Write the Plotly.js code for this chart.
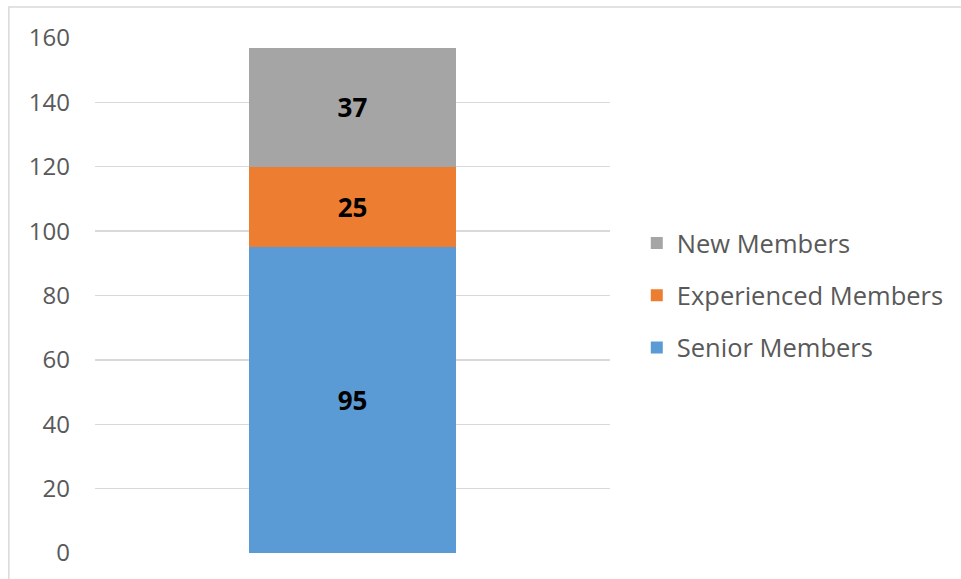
<!DOCTYPE html>
<html><head><meta charset="utf-8">
<script src="https://cdn.plot.ly/plotly-3.0.1.min.js"></script>
<style>html,body{margin:0;padding:0;background:#fff}#c{width:961px;height:579px}</style>
</head><body><div id="c"></div>
<script>
const categories = ['Members'];
const seriesNames = ['Senior Members', 'Experienced Members', 'New Members'];
const senior = [95];
const experienced = [25];
const newMembers = [37];
const colors = ['#5B9BD5', '#ED7D31', '#A5A5A5'];
const legendRanks = [3, 2, 1];
const yTicks = [0, 20, 40, 60, 80, 100, 120, 140, 160];

const values = [senior, experienced, newMembers];
const traces = values.map((v, i) => ({
  type: 'bar', x: categories, y: v, name: seriesNames[i],
  legendgroup: 'g' + i, legendrank: legendRanks[i],
  marker: {color: colors[i]},
  text: v.map(String), textposition: 'inside', insidetextanchor: 'middle',
  textfont: {family: 'Open Sans', size: 26, color: '#000000', weight: 'bold'},
  width: 0.403, hoverinfo: 'skip'
}));

const layout = {
  width: 961, height: 579,
  margin: {l: 95, r: 351, t: 38, b: 26},
  paper_bgcolor: '#fff', plot_bgcolor: '#fff',
  barmode: 'stack',
  font: {family: 'Open Sans', color: '#595959'},
  xaxis: {showticklabels: false, showgrid: false, zeroline: false, showline: false, ticks: '', range: [-0.5, 0.5]},
  yaxis: {range: [0, 160], tickvals: yTicks, ticktext: yTicks.map(String), showgrid: true, gridcolor: '#D9D9D9', gridwidth: 1.3,
          zeroline: false, showline: false, ticks: '', ticklabelstandoff: 24, tickfont: {size: 24, color: '#595959'}},
  showlegend: true,
  legend: {x: 1.052, y: 0.5, xanchor: 'left', yanchor: 'middle', traceorder: 'grouped', tracegroupgap: 16,
           font: {size: 25.5, color: '#595959'}, itemwidth: 30},
  shapes: [{type: 'rect', xref: 'paper', yref: 'paper', x0: (9-95)/514, x1: 3, y0: -2, y1: (553-7)/515,
            line: {color: '#D9D9D9', width: 1.5}, fillcolor: 'rgba(0,0,0,0)', layer: 'below'}]
};
Plotly.newPlot('c', traces, layout, {displayModeBar: false, staticPlot: true});
</script></body></html>
